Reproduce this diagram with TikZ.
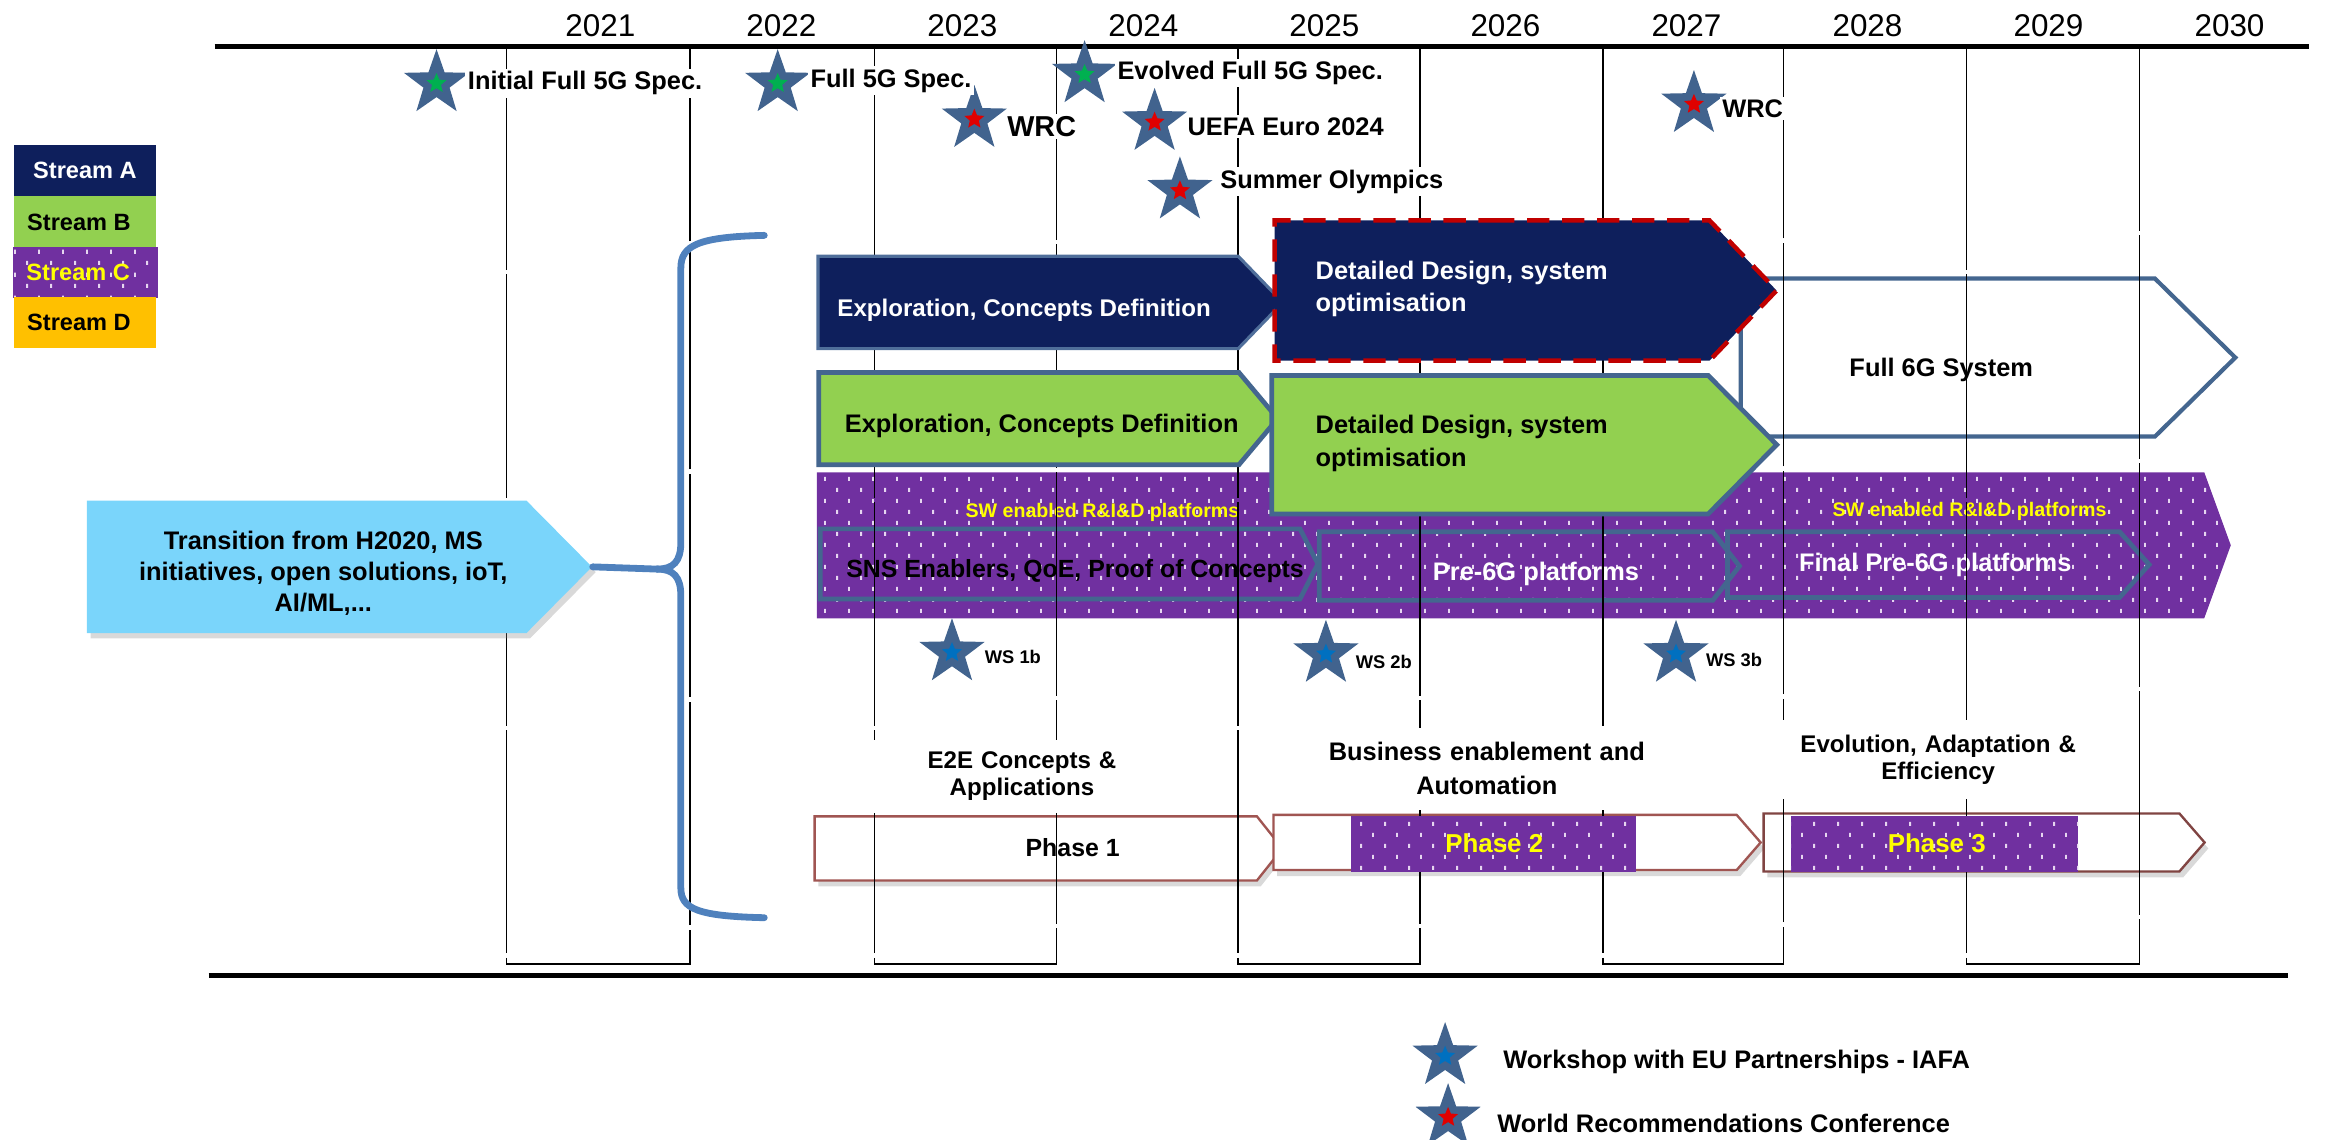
\documentclass[tikz,border=0pt]{standalone}
\usepackage{fontspec}
\setmainfont{Liberation Sans}
\usepackage{xcolor}
\usepackage{tikz}
\usetikzlibrary{shapes.geometric,shapes.symbols,shadows,patterns}

\definecolor{navyA}{HTML}{0E1F5C}
\definecolor{navyedge}{HTML}{4F6E9A}
\definecolor{greenB}{HTML}{92D050}
\definecolor{purpleC}{HTML}{7030A0}
\definecolor{orangeD}{HTML}{FFC000}
\definecolor{edgeblue}{HTML}{44668F}
\definecolor{starblue}{HTML}{41638E}
\definecolor{skyblue}{HTML}{7AD5FB}
\definecolor{braceblue}{HTML}{4F81BD}
\definecolor{phaseedge}{HTML}{A05552}
\definecolor{dashred}{HTML}{C00000}
\definecolor{yellowT}{HTML}{FFFF00}
\definecolor{dotwhite}{HTML}{E6D6F0}
\definecolor{msgreen}{HTML}{00B050}
\definecolor{msred}{HTML}{E00000}
\definecolor{msblue}{HTML}{0070C0}

\pgfdeclarepatternformonly{wdots}{\pgfpoint{0mm}{0mm}}{\pgfpoint{3.2mm}{3mm}}{\pgfpoint{3.2mm}{3mm}}{
  \pgfpathrectangle{\pgfpoint{0.3mm}{0.3mm}}{\pgfpoint{0.25mm}{0.55mm}}
  \pgfpathrectangle{\pgfpoint{1.9mm}{1.8mm}}{\pgfpoint{0.25mm}{0.55mm}}
  \pgfusepath{fill}}

\begin{document}
\begin{tikzpicture}[x=0.2mm, y=-0.2mm,
    yearlbl/.style={font=\fontsize{12}{14}\selectfont, inner sep=1pt},
    yearbox/.style={draw=black, line width=0.55pt, dash pattern=on 30mm off 0.6mm},
    axisline/.style={draw=black, line width=1.9pt},
    lbl/.style={font=\bfseries\fontsize{9.7}{12.5}\selectfont, inner sep=1pt},
    note/.style={lbl, fill=white, anchor=west},
    arrowbox/.style={signal, signal to=east, signal from=nowhere, inner sep=0pt, anchor=west},
    navybox/.style={arrowbox, fill=navyA, draw=navyedge, line width=1.2pt},
    greenbox/.style={arrowbox, fill=greenB, draw=edgeblue, line width=1.8pt},
    hollowbox/.style={arrowbox, fill=white, draw=edgeblue, line width=1.6pt},
    dotfill/.style={fill=purpleC, postaction={pattern=wdots, pattern color=dotwhite}},
    bandbox/.style={arrowbox, dotfill, draw=none},
    platbox/.style={arrowbox, draw=edgeblue, line width=1.8pt},
    phasebox/.style={arrowbox, fill=white, draw=phaseedge, line width=0.9pt,
        drop shadow={shadow xshift=0.5mm, shadow yshift=-0.8mm, opacity=0.3}},
    phasefill/.style={rectangle, dotfill, inner sep=0pt, minimum height=7.4mm},
    transbox/.style={arrowbox, fill=skyblue, draw=none,
        drop shadow={shadow xshift=0.5mm, shadow yshift=-0.7mm, opacity=0.3}},
    legbox/.style={rectangle, minimum width=19mm, minimum height=6.9mm, inner sep=0pt},
    mstar/.style={star, star points=5, star point ratio=2.5, fill=starblue, minimum size=9.2mm, inner sep=0pt},
    core/.style={star, star points=5, star point ratio=2.2, minimum size=2.8mm, inner sep=0pt},
    brace/.style={draw=braceblue, line width=2.6pt, line cap=round, line join=round}
    ]

    \useasboundingbox (0,0) rectangle (1568,765);

    % years
    \foreach \yr [count=\i from 0] in {2021,...,2030}
        \node[yearlbl] (yr\yr) at ({403+121.5*\i},17) {\yr};

    % stream C band
    \node[bandbox, signal pointer angle=140, minimum width=189.8mm, minimum height=19.6mm] (bandC) at (548,366) {};
    \node[lbl, font=\bfseries\fontsize{7.5}{9}\selectfont, text=yellowT] (swA) at (740,344) {SW enabled R\&I\&D platforms};
    \node[lbl, font=\bfseries\fontsize{7.5}{9}\selectfont, text=yellowT] (swB) at (1322,343) {SW enabled R\&I\&D platforms};

    \node[platbox, signal pointer angle=126, minimum width=66.8mm, minimum height=9.4mm] (sns) at (549,378.5) {};
    \node[lbl, anchor=west, font=\bfseries\fontsize{9.5}{12}\selectfont] (snst) at (566,383) {SNS Enablers, QoE, Proof of Concepts};
    \node[platbox, signal pointer angle=104, minimum width=56.4mm, minimum height=9.2mm] (pre6G) at (884,380) {};
    \node[lbl, text=white] (pre6Gt) at (1031,385) {Pre-6G platforms};
    \node[platbox, signal pointer angle=96, minimum width=56.6mm, minimum height=8.8mm] (final6G) at (1158,379) {};
    \node[lbl, text=white] (final6Gt) at (1299,379) {Final Pre-6G platforms};

    % full 6G
    \node[hollowbox, signal pointer angle=89, minimum width=66.4mm, minimum height=21.2mm] (full6G) at (1167,240) {};
    \node[lbl] (full6Gt) at (1303,248) {Full 6G System};

    % phases
    \node[phasebox, signal pointer angle=103, minimum width=62.8mm, minimum height=8.6mm] (phase1) at (546,569.5) {};
    \node[phasebox, signal pointer angle=98, minimum width=65.4mm, minimum height=7.4mm] (phase2) at (854,565.5) {};
    \node[phasebox, draw=phaseedge!80!black, signal pointer angle=98, minimum width=59.2mm, minimum height=7.8mm] (phase3) at (1183,565.5) {};

    % year columns
    \foreach \xa/\xb in {340/463, 587/709, 831/953, 1076/1197, 1320/1436}
        \draw[yearbox] (\xa,31) rectangle (\xb,647);
    \draw[axisline] (144,31) -- (1550,31);
    \draw[axisline] (140,655) -- (1536,655);

    % stream A
    \node[navybox, signal pointer angle=92, minimum width=62.4mm, minimum height=12.4mm] (exploreA) at (548,203) {};
    \node[lbl, anchor=west, text=white, font=\bfseries\fontsize{9.2}{12}\selectfont] (exploreAt) at (560,208) {Exploration, Concepts Definition};
    \node[navybox, draw=dashred, line width=0.6mm, dash pattern=on 3mm off 1.7mm,
          signal pointer angle=92.5, minimum width=67.4mm, minimum height=18.8mm] (designA) at (854,195) {};
    \node[lbl, anchor=west, align=left, text=white] (designAt) at (881,194) {Detailed Design, system\\optimisation};

    % stream B
    \node[greenbox, signal pointer angle=100, minimum width=61.6mm, minimum height=12.4mm] (exploreB) at (548,281) {};
    \node[lbl, anchor=west] (exploreBt) at (565,286) {Exploration, Concepts Definition};
    \node[greenbox, signal pointer angle=90.6, minimum width=67.8mm, minimum height=18.6mm] (designB) at (852,298.5) {};
    \node[lbl, anchor=west, align=left] (designBt) at (881,297.5) {Detailed Design, system\\optimisation};

    % phase contents
    \node[lbl, font=\bfseries\fontsize{9.5}{12}\selectfont] (phase1t) at (720,569) {Phase 1};
    \node[phasefill, minimum width=38.2mm] (phase2c) at (1002.5,566.5) {};
    \node[lbl, text=yellowT, font=\bfseries\fontsize{9.9}{12}\selectfont] (phase2t) at (1003,566) {Phase 2};
    \node[phasefill, minimum width=38.6mm] (phase3c) at (1298.5,566.5) {};
    \node[lbl, text=yellowT, font=\bfseries\fontsize{9.9}{12}\selectfont] (phase3t) at (1300,566) {Phase 3};

    \node[lbl, fill=white, align=center, text width=42mm, minimum height=9.8mm,
          font=\bfseries\fontsize{9.2}{10.5}\selectfont] (e2e) at (686,521) {E2E Concepts \&\\Applications};
    \node[lbl, fill=white, align=center, text width=44mm, minimum height=11mm,
          font=\bfseries\fontsize{9.7}{13}\selectfont] (business) at (998,516) {Business enablement and\\Automation};
    \node[lbl, fill=white, align=center, text width=46mm, minimum height=10.6mm,
          font=\bfseries\fontsize{9.2}{10.5}\selectfont] (evolution) at (1301,510) {Evolution, Adaptation \&\\Efficiency};

    % transition and brace
    \node[transbox, signal pointer angle=90.6, minimum width=67.8mm, minimum height=17.8mm] (trans) at (58,380.5) {};
    \node[lbl, align=center, font=\bfseries\fontsize{9.7}{11.9}\selectfont] (transt) at (217,385) {Transition from H2020, MS\\initiatives, open solutions, ioT,\\AI/ML,...};

    \coordinate (braceTop) at (513,158);
    \coordinate (braceBot) at (513,616);
    \coordinate (braceTip) at (441,382);
    \draw[brace] (trans.east) -- (braceTip);
    \draw[brace] (braceTip) .. controls (452,382) and (457,377) .. (457,364) -- (457,180)
        .. controls (457,165) and (468,159) .. (braceTop);
    \draw[brace] (braceTip) .. controls (452,382) and (457,387) .. (457,400) -- (457,596)
        .. controls (457,610) and (468,615) .. (braceBot);

    % stream legend
    \node[legbox, fill=navyA] (legA) at (57,114.5) {};
    \node[lbl, text=white, font=\bfseries\fontsize{9}{11}\selectfont] (legAt) at (legA.center) {Stream A};
    \node[legbox, fill=greenB] (legB) at (57,149) {};
    \node[lbl, anchor=west, font=\bfseries\fontsize{9}{11}\selectfont] (legBt) at ([xshift=1.4mm]legB.west) {Stream B};
    \node[legbox, dotfill, minimum width=19.4mm] (legC) at (57.5,183) {};
    \node[lbl, anchor=west, text=yellowT, font=\bfseries\fontsize{9}{11}\selectfont] (legCt) at ([xshift=1.4mm]legC.west) {Stream C};
    \node[legbox, fill=orangeD] (legD) at (57,216.5) {};
    \node[lbl, anchor=west, font=\bfseries\fontsize{9}{11}\selectfont] (legDt) at ([xshift=1.4mm]legD.west) {Stream D};

    % milestones
    \foreach \nm/\px/\py/\cc in {sInit/293/56/msgreen, sFull/522/56/msgreen, sEvo/728/50/msgreen,
            sWrcA/654/80/msred, sEuro/775/82/msred, sOly/792/128/msred, sWrcB/1137/70/msred,
            sWs1/639/438/msblue, sWs2/890/439/msblue, sWs3/1125/439/msblue,
            sLegW/970/709/msblue, sLegR/972/750/msred}
    {
        \node[mstar] (\nm) at (\px,\py) {};
        \node[core, fill=\cc] (\nm-c) at (\nm.center) {};
    }

    \node[note] (tInit) at (312,56) {Initial Full 5G Spec.};
    \node[note] (tFull) at (542,54) {Full 5G Spec.};
    \node[note] (tEvo) at (748,49) {Evolved Full 5G Spec.};
    \node[note, font=\bfseries\fontsize{11}{13}\selectfont] (tWrcA) at (674,85) {WRC};
    \node[note] (tEuro) at (795,85) {UEFA Euro 2024};
    \node[note] (tOly) at (817,122) {Summer Olympics};
    \node[note] (tWrcB) at (1154,73) {WRC};
    \node[note, font=\bfseries\fontsize{7}{8}\selectfont] (tWs1) at (659,441) {WS 1b};
    \node[note, font=\bfseries\fontsize{7}{8}\selectfont] (tWs2) at (908,444) {WS 2b};
    \node[note, font=\bfseries\fontsize{7}{8}\selectfont] (tWs3) at (1143,443) {WS 3b};
    \node[note] (tLegW) at (1007,713) {Workshop with EU Partnerships - IAFA};
    \node[note] (tLegR) at (1003,754) {World Recommendations Conference};

\end{tikzpicture}
\end{document}
